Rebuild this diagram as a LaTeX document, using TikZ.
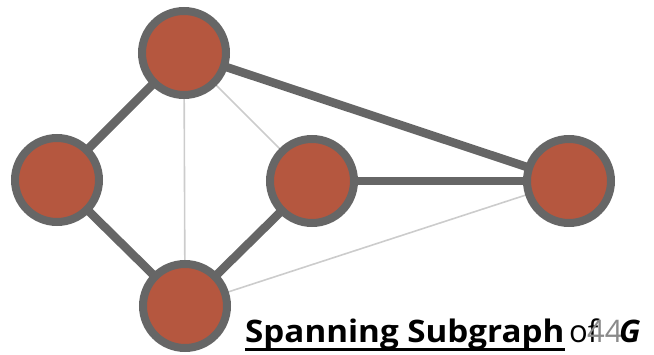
\documentclass[tikz,border=0pt]{standalone}
\usepackage{fontspec}
\setmainfont{Open Sans}
\usetikzlibrary{calc}
\definecolor{vfill}{HTML}{B5573F}
\definecolor{vedge}{HTML}{666666}
\definecolor{lightedge}{HTML}{CCCCCC}
\definecolor{pagenum}{HTML}{8A8A8A}
\begin{document}
\begin{tikzpicture}[x=1pt,y=-1pt,
  vertex/.style={circle,fill=vfill,draw=vedge,line width=8pt,minimum size=84pt,inner sep=0pt},
  heavy/.style={draw=vedge,line width=8.5pt},
  light/.style={draw=lightedge,line width=1.6pt},
  captext/.style={anchor=base west,inner sep=0pt,font=\fontsize{31}{36}\selectfont}]
\useasboundingbox (0,0) rectangle (654,355);
% vertices
\coordinate (tc) at (184,53);
\coordinate (lc) at (57,180);
\coordinate (mc) at (312,181);
\coordinate (rc) at (569,181);
\coordinate (bc) at (185,306);
% edges not in the subgraph
\draw[light] (tc) -- (bc);
\draw[light] (tc) -- (mc);
\draw[light] (bc) -- (rc);
% edges of the spanning subgraph
\draw[heavy] (tc) -- (lc);
\draw[heavy] (lc) -- (bc);
\draw[heavy] (bc) -- (mc);
\draw[heavy] (tc) -- (rc);
\draw[heavy] (mc) -- (rc);
\node[vertex] (t) at (tc) {};
\node[vertex] (l) at (lc) {};
\node[vertex] (m) at (mc) {};
\node[vertex] (r) at (rc) {};
\node[vertex] (b) at (bc) {};
% caption
\node[captext] (cap) at (245,343) {\scalebox{1.07}[1]{\textbf{Spanning Subgraph}}};
\draw[line width=2.6pt] ($(cap.base west)+(0,6.5)$) -- ($(cap.base east)+(0,6.5)$);
\node[captext] (of) at (569,343) {of};
\node[captext,text=pagenum] (num) at (587,343) {44};
\node[captext] (g) at (619,343) {\textbf{\textit{G}}};
\end{tikzpicture}
\end{document}
